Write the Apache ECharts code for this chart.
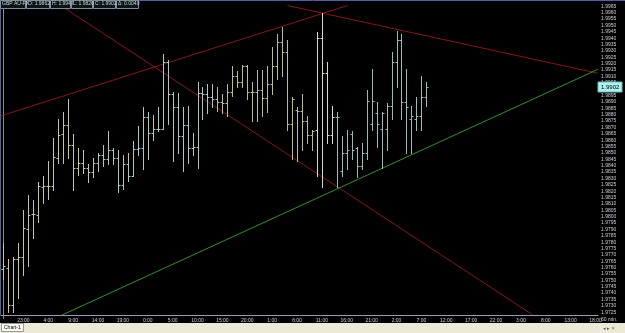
<!DOCTYPE html>
<html><head><meta charset="utf-8">
<script src="https://cdn.jsdelivr.net/npm/echarts@6/dist/echarts.min.js"></script>
<style>html,body{margin:0;padding:0;background:#000;}#c{width:625px;height:333px;}</style>
</head><body><div id="c"></div>
<script>
const tickLabels = ['23:00','4:00','9:00','14:00','19:00','0:00','5:00','10:00','15:00','20:00','1:00','6:00','11:00','16:00','21:00','2:00','7:00','12:00','17:00','22:00','3:00','8:00','13:00','18:00'];
const openV = [1.9759,1.9760,1.9731,1.9767,1.9768,1.9790,1.9802,1.9801,1.9823,1.9824,
1.9824,1.9846,1.9865,1.9872,1.9856,1.9838,1.9842,1.9838,1.9835,1.9842,
1.9848,1.9845,1.9852,1.9846,1.9825,1.9841,1.9832,1.9853,1.9854,1.9878,
1.9866,1.9869,1.9869,1.9921,1.9896,1.9886,1.9863,1.9872,1.9854,1.9855,
1.9897,1.9896,1.9894,1.9892,1.9890,1.9889,1.9898,1.9910,1.9906,1.9918,
1.9898,1.9898,1.9899,1.9893,1.9904,1.9918,1.9937,1.9929,1.9873,1.9884,
1.9883,1.9875,1.9864,1.9868,1.9940,1.9913,1.9864,1.9878,1.9836,1.9850,
1.9865,1.9854,1.9840,1.9850,1.9873,1.9881,1.9869,1.9869,1.9887,1.9921,
1.9939,1.9890,1.9877,1.9877,1.9879,1.9894];
const highV = [1.9779,1.9767,1.9768,1.9779,1.9805,1.9817,1.9813,1.9827,1.9832,1.9844,
1.9862,1.9877,1.9882,1.9892,1.9865,1.9854,1.9852,1.9841,1.9846,1.9850,
1.9856,1.9867,1.9854,1.9852,1.9848,1.9850,1.9859,1.9871,1.9886,1.9882,
1.9880,1.9886,1.9928,1.9923,1.9898,1.9897,1.9886,1.9887,1.9866,1.9906,
1.9902,1.9904,1.9904,1.9902,1.9896,1.9904,1.9918,1.9914,1.9919,1.9919,
1.9906,1.9915,1.9915,1.9918,1.9933,1.9943,1.9949,1.9939,1.9894,1.9886,
1.9896,1.9879,1.9868,1.9945,1.9960,1.9921,1.9887,1.9882,1.9863,1.9868,
1.9867,1.9855,1.9858,1.9899,1.9916,1.9890,1.9882,1.9889,1.9929,1.9946,
1.9943,1.9916,1.9887,1.9894,1.9910,1.9906];
const lowV = [1.9751,1.9725,1.9725,1.9736,1.9754,1.9761,1.9783,1.9796,1.9811,1.9814,
1.9821,1.9842,1.9842,1.9846,1.9821,1.9833,1.9834,1.9827,1.9831,1.9836,
1.9840,1.9841,1.9841,1.9819,1.9822,1.9828,1.9832,1.9848,1.9837,1.9845,
1.9860,1.9867,1.9869,1.9873,1.9844,1.9850,1.9836,1.9842,1.9848,1.9838,
1.9877,1.9881,1.9886,1.9883,1.9881,1.9879,1.9895,1.9902,1.9902,1.9892,
1.9875,1.9875,1.9879,1.9882,1.9896,1.9908,1.9910,1.9868,1.9845,1.9844,
1.9852,1.9858,1.9852,1.9832,1.9823,1.9858,1.9858,1.9823,1.9832,1.9837,
1.9845,1.9831,1.9837,1.9845,1.9868,1.9855,1.9838,1.9852,1.9877,1.9902,
1.9877,1.9850,1.9850,1.9868,1.9868,1.9887];
const closeV = [1.9761,1.9731,1.9767,1.9768,1.9791,1.9801,1.9802,1.9824,1.9824,1.9824,
1.9847,1.9864,1.9872,1.9856,1.9838,1.9842,1.9838,1.9835,1.9842,1.9848,
1.9845,1.9852,1.9846,1.9825,1.9841,1.9832,1.9853,1.9854,1.9878,1.9866,
1.9869,1.9869,1.9921,1.9896,1.9886,1.9863,1.9872,1.9854,1.9855,1.9897,
1.9896,1.9894,1.9892,1.9890,1.9889,1.9898,1.9910,1.9906,1.9918,1.9898,
1.9898,1.9899,1.9893,1.9904,1.9918,1.9937,1.9929,1.9873,1.9892,1.9883,
1.9875,1.9864,1.9867,1.9940,1.9913,1.9864,1.9878,1.9878,1.9850,1.9852,
1.9852,1.9840,1.9850,1.9891,1.9891,1.9873,1.9881,1.9887,1.9921,1.9939,
1.9890,1.9886,1.9879,1.9879,1.9894,1.9902];
// trend lines: [bar index, price]
const redRise = [[-0.5, 1.98791], [69.19, 1.99657]];
const redFallTop = [[57.07, 1.99657], [119.5, 1.99125]];
const redFallLong = [[11.48, 1.99657], [106.43, 1.97228]];
const greenSupport = [[11.76, 1.97228], [119.5, 1.99156]];
const headerTexts = ['GBP AU-FX', 'O: 1.9862', 'H: 1.9947', 'L: 1.9826', 'C: 1.9902', '\u0394: 0.0040'];

const NCAT = 120;
const categories = [];
for (let i = 0; i < NCAT; i++) categories.push('b' + i);
const ohlc = openV.map((o, i) => [i, o, highV[i], lowV[i], closeV[i]]);

function barColor(k) {
  if (k <= 18) return '#c6c69c';
  if (k <= 42) return '#a9c9c9';
  if (k <= 62) return '#bcbc94';
  if (k <= 66) return '#dcdcc4';
  return '#93bcbc';
}

const chart = echarts.init(document.getElementById('c'), null, {renderer: 'canvas'});
const FONT = 'Liberation Sans';
const lineSeries = (d, color) => ({
  type: 'line', xAxisIndex: 1, yAxisIndex: 0, data: d, symbol: 'none', silent: true,
  lineStyle: {color: color, width: 1}, clip: true, animation: false, z: 1
});
const hdrX = [0, 26, 50, 71, 93, 116];
const hdrW = [25, 23, 20, 21, 22, 22];
const graphics = [];
headerTexts.forEach((t, i) => {
  graphics.push({type: 'rect', shape: {x: hdrX[i] + 0.5, y: 0.5, width: hdrW[i], height: 8}, style: {fill: '#0c1414', stroke: '#7f8f9f', lineWidth: 1}, z: 100});
  graphics.push({type: 'text', x: hdrX[i] + 2, y: 1.5, style: {text: t, fill: '#c8d8d8', font: '5px ' + FONT}, z: 101});
});
graphics.push({type: 'rect', shape: {x: 0, y: 323, width: 625, height: 10}, style: {fill: '#ece9d8'}, z: 100});
graphics.push({type: 'rect', shape: {x: 1.5, y: 323.5, width: 22, height: 8}, style: {fill: '#fbfaf5', stroke: '#9a9a90', lineWidth: 1}, z: 101});
graphics.push({type: 'text', x: 4, y: 325, style: {text: 'Chart-1', fill: '#000', font: '5px ' + FONT}, z: 102});
graphics.push({type: 'text', x: 603, y: 326, style: {text: '\u25C2 \u25B8 \u00D7', fill: '#555', font: '5px ' + FONT}, z: 102});
graphics.push({type: 'text', x: 601, y: 317.5, style: {text: '60 min.', fill: '#c8d0d8', font: '5px ' + FONT}, z: 102});
graphics.push({type: 'line', shape: {x1: 0.5, y1: 0, x2: 0.5, y2: 315}, style: {stroke: '#5060a0', lineWidth: 1}, z: 99});
graphics.push({type: 'line', shape: {x1: 0, y1: 0.5, x2: 625, y2: 0.5}, style: {stroke: '#5060a0', lineWidth: 1}, z: 99});

chart.setOption({
  backgroundColor: '#000',
  animation: false,
  grid: {left: 1, right: 27, top: -5.6, bottom: 14.4, containLabel: false},
  xAxis: [{
    type: 'category', data: categories, boundaryGap: true, offset: -3.6,
    axisLine: {show: true, lineStyle: {color: '#9a9ab8', width: 1}},
    axisTick: {show: false},
    axisLabel: {
      interval: (idx) => (idx - 4) % 5 === 0,
      formatter: (v, idx) => tickLabels[(idx - 4) / 5] || '',
      color: '#c8d0d8', fontSize: 5, fontFamily: FONT, margin: 3
    },
    splitLine: {show: false}
  }, {
    type: 'value', min: -0.5, max: NCAT - 0.5, show: false
  }],
  yAxis: [{
    type: 'value', position: 'right', min: 1.9720, max: 1.9970, interval: 0.0005,
    axisLine: {show: true, lineStyle: {color: '#8a8a8a', width: 1}},
    axisTick: {show: false},
    splitLine: {show: false},
    axisLabel: {
      color: '#c8d0d8', fontSize: 5, fontFamily: FONT, margin: 3,
      formatter: (v) => (v < 1.9722 || v > 1.9967) ? '' : v.toFixed(4)
    }
  }],
  graphic: graphics,
  series: [
    lineSeries(redRise, '#851818'),
    lineSeries(redFallTop, '#851818'),
    lineSeries(redFallLong, '#851818'),
    lineSeries(greenSupport, '#2c922c'),
    {
      type: 'custom', xAxisIndex: 0, yAxisIndex: 0, data: ohlc, z: 5,
      encode: {x: 0, y: [1, 2, 3, 4]},
      renderItem: (params, api) => {
        const k = api.value(0);
        const o = api.coord([k, api.value(1)]);
        const h = api.coord([k, api.value(2)]);
        const l = api.coord([k, api.value(3)]);
        const c = api.coord([k, api.value(4)]);
        const x = Math.round(o[0]) + 0.5;
        const oy = Math.round(o[1]) + 0.5, cy = Math.round(c[1]) + 0.5;
        const st = {stroke: barColor(k), lineWidth: 1};
        return {type: 'group', children: [
          {type: 'line', shape: {x1: x, y1: Math.round(h[1]), x2: x, y2: Math.round(l[1]) + 1}, style: st},
          {type: 'line', shape: {x1: x - 2, y1: oy, x2: x, y2: oy}, style: st},
          {type: 'line', shape: {x1: x, y1: cy, x2: x + 2, y2: cy}, style: st}
        ]};
      }
    }
  ]
});

// current price tag on the price axis
const lastClose = closeV[closeV.length - 1];
const py = chart.convertToPixel({yAxisIndex: 0}, lastClose);
graphics.push({type: 'rect', shape: {x: 598, y: Math.round(py) - 5, width: 24, height: 10}, style: {fill: '#aef2f2', stroke: '#6fbcbc', lineWidth: 1}, z: 110});
graphics.push({type: 'text', x: 601, y: Math.round(py) - 3, style: {text: lastClose.toFixed(4), fill: '#000', font: '6px ' + FONT}, z: 111});
chart.setOption({graphic: graphics});
</script></body></html>
